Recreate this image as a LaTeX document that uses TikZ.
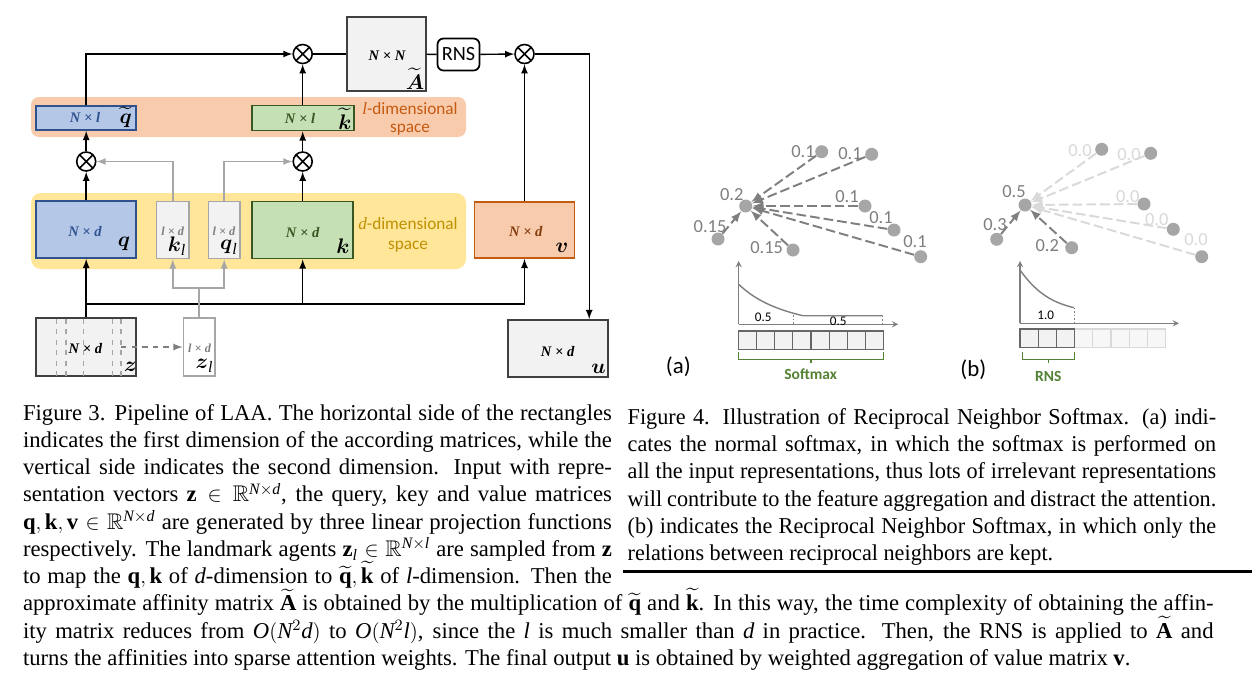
\documentclass[tikz,border=0pt]{standalone}
\usepackage{amsmath}
\usepackage{amssymb}
\usepackage{fontspec}
\setmainfont{Liberation Serif}
\newfontfamily\calibri{Carlito}
\DeclareSymbolFont{timesit}{TU}{\rmdefault}{m}{it}
\DeclareMathSymbol{d}{\mathalpha}{timesit}{`d}
\DeclareMathSymbol{l}{\mathalpha}{timesit}{`l}
\DeclareMathSymbol{N}{\mathalpha}{timesit}{`N}
\DeclareMathSymbol{O}{\mathalpha}{timesit}{`O}
\usepackage{tikz}
\usetikzlibrary{arrows,shapes,positioning}
\usepackage{xcolor}
\definecolor{laablue}{RGB}{180,199,231}
\definecolor{laabluedark}{RGB}{47,82,143}
\definecolor{laagreen}{RGB}{197,224,180}
\definecolor{laagreendark}{RGB}{56,87,35}
\definecolor{laaorange}{RGB}{248,203,173}
\definecolor{laaorangedark}{RGB}{197,90,17}
\definecolor{laabrown}{RGB}{132,60,12}
\definecolor{laayellow}{RGB}{255,230,153}
\definecolor{laagold}{RGB}{191,144,0}
\definecolor{laagrey}{RGB}{242,242,242}
\definecolor{laamid}{RGB}{166,166,166}
\definecolor{laadark}{RGB}{127,127,127}
\definecolor{laaink}{RGB}{64,64,64}
\definecolor{laafade}{RGB}{217,217,217}
\definecolor{rnsgreen}{RGB}{84,130,53}
\tikzstyle{arrow} = [thick,->,>=latex]
\tikzstyle{greyarrow} = [thick,->,>=latex,color=laamid]
\tikzstyle{mat} = [rectangle, draw, line width=1pt, inner sep=0pt]
\tikzstyle{bluemat} = [mat, fill=laablue, draw=laabluedark]
\tikzstyle{greenmat} = [mat, fill=laagreen, draw=laagreendark]
\tikzstyle{valmat} = [mat, fill=laaorange, draw=laaorangedark]
\tikzstyle{greymat} = [mat, fill=laagrey, draw=laaink]
\tikzstyle{landmat} = [mat, fill=laagrey, draw=laamid]
\tikzstyle{mult} = [circle, draw, fill=white, line width=0.9pt, minimum size=0.38cm, inner sep=0pt,
  path picture={\draw[line width=0.9pt] (path picture bounding box.north west) -- (path picture bounding box.south east)
  (path picture bounding box.north east) -- (path picture bounding box.south west);}]
\tikzstyle{dimtxt} = [inner sep=0pt, font=\fontsize{8.3}{9}\selectfont\bfseries\itshape]
\tikzstyle{symtxt} = [inner sep=0pt, font=\fontsize{13}{14}\selectfont]
\tikzstyle{spacelbl} = [inner sep=0pt, align=center, font=\calibri\fontsize{9.8}{10.4}\selectfont]
\tikzstyle{repdot} = [circle, fill=laamid, minimum size=0.26cm, inner sep=0pt]
\tikzstyle{vote} = [->, >=latex, line width=1.1pt, dash pattern=on 5.5pt off 2.3pt, color=laadark]
\tikzstyle{fadevote} = [vote, color=laafade]
\tikzstyle{wlabel} = [inner sep=0pt, text=laadark, font=\calibri\fontsize{10.5}{12}\selectfont]
\tikzstyle{axis} = [->, >=stealth, line width=0.6pt, color=laadark]
\tikzstyle{cell} = [fill=laagrey, draw=laaink!80, line width=0.6pt]
\tikzstyle{brace} = [line width=0.7pt, color=rnsgreen]
\tikzstyle{capline} = [anchor=base west, inner sep=0pt, font=\fontsize{12.9}{15}\selectfont]

\begin{document}
\begin{tikzpicture}[x=0.02cm, y=-0.02cm]
\useasboundingbox (0,0) rectangle (1252,677);
\fill[white] (0,0) rectangle (1252,677);

% Feature spaces
\fill[laaorange, rounded corners=0.16cm] (31,97) rectangle (466,137);
\fill[laayellow, rounded corners=0.2cm] (31,193) rectangle (466,269);
\node[spacelbl, text=laaorangedark] (lspace) at (410,119) {$l$-dimensional\\space};
\node[spacelbl, text=laagold, font=\calibri\fontsize{9.8}{11.8}\selectfont] (dspace) at (408,235) {$d$-dimensional\\space};

% Matrices
\node[bluemat, minimum width=2.006cm, minimum height=0.48cm] (qt) at (86.2,118) {};
\node[greenmat, minimum width=2.04cm, minimum height=0.5cm] (kt) at (302.7,118) {};
\node[greymat, minimum width=1.58cm, minimum height=1.48cm] (At) at (386.3,54) {};
\node[mat, rounded corners=0.12cm, minimum width=0.84cm, minimum height=0.64cm, font=\calibri\fontsize{11.5}{12}\selectfont] (rns) at (458.5,54.5) {RNS};
\node[bluemat, minimum width=2.006cm, minimum height=1.14cm] (q) at (86.2,229.5) {};
\node[landmat, minimum width=0.654cm, minimum height=1.14cm] (kl) at (172.8,230) {};
\node[landmat, minimum width=0.63cm, minimum height=1.14cm] (ql) at (224.2,230) {};
\node[greenmat, minimum width=2.016cm, minimum height=1.14cm] (k) at (302.7,230) {};
\node[valmat, minimum width=2cm, minimum height=1.12cm] (v) at (524.5,230) {};
\node[greymat, minimum width=2.006cm, minimum height=1.16cm] (z) at (86.2,347) {};
\node[landmat, fill=white, minimum width=0.63cm, minimum height=1.16cm] (zl) at (199.2,347) {};
\node[greymat, minimum width=2cm, minimum height=1.14cm] (u) at (557.7,348.5) {};

% Landmark columns inside z
\foreach \c in {56.5,66.2,83.5,112.3,121.2}
  \draw[laamid, line width=0.9pt, dashed] (\c,318.5) -- (\c,375.5);

% Matrix labels
\node[dimtxt, text=laabluedark] (qtdim) at (85,117) {N × l};
\node[symtxt] (qtsym) at (125.8,117) {$\widetilde{\boldsymbol{q}}$};
\node[dimtxt, text=laagreendark] (ktdim) at (300,118) {N × l};
\node[symtxt] (ktsym) at (345,119) {$\widetilde{\boldsymbol{k}}$};
\node[dimtxt] (Atdim) at (387,56) {N × N};
\node[symtxt] (Atsym) at (415,79) {$\widetilde{\boldsymbol{A}}$};
\node[dimtxt, text=laabluedark] (qdim) at (85,231.7) {N × d};
\node[symtxt] (qsym) at (124,244) {$\boldsymbol{q}$};
\node[dimtxt, text=laadark, font=\fontsize{7}{8}\selectfont\bfseries\itshape] (kldim) at (172.7,231.7) {l × d};
\node[symtxt] (klsym) at (177,246) {$\boldsymbol{k}_{l}$};
\node[dimtxt, text=laadark, font=\fontsize{7}{8}\selectfont\bfseries\itshape] (qldim) at (224,231.7) {l × d};
\node[symtxt] (qlsym) at (229,247) {$\boldsymbol{q}_{l}$};
\node[dimtxt, text=laagreendark] (kdim) at (302.7,232.5) {N × d};
\node[symtxt] (ksym) at (343,246) {$\boldsymbol{k}$};
\node[dimtxt, text=laabrown] (vdim) at (525.8,232) {N × d};
\node[symtxt] (vsym) at (562,248) {$\boldsymbol{v}$};
\node[dimtxt] (zdim) at (85.4,348.3) {N × d};
\node[symtxt] (zsym) at (130.5,367) {$\boldsymbol{z}$};
\node[dimtxt, text=laadark, font=\fontsize{7}{8}\selectfont\bfseries\itshape] (zldim) at (199.6,348) {l × d};
\node[symtxt] (zlsym) at (204.6,366) {$\boldsymbol{z}_{l}$};
\node[dimtxt] (udim) at (557.7,351.7) {N × d};
\node[symtxt] (usym) at (598.5,368.5) {$\boldsymbol{u}$};

% Multiplications
\node[mult] (m1) at (302.7,54) {};
\node[mult] (mr) at (524.5,54) {};
\node[mult] (ml) at (86.2,161.5) {};
\node[mult] (mm) at (302.7,161.5) {};

% Projections from z
\coordinate (branch) at (86.2,304);
\draw[arrow] (z) -- (q);
\draw[arrow] (branch) -| (k);
\draw[arrow] (branch) -| (v);
\coordinate (zcut) at (121.2,347);
\draw[->, >=latex, thick, laadark, dashed] (zcut) -- (zl);
\coordinate (lsplit) at (199.2,288);
\draw[thick, laamid] (zl) -- (lsplit);
\draw[greyarrow] (lsplit) -| (kl);
\draw[greyarrow] (lsplit) -| (ql);

% Landmark mapping
\draw[arrow] (q) -- (ml);
\draw[arrow] (ml) -- (qt);
\draw[greyarrow] (kl) |- (ml);
\draw[greyarrow] (ql) |- (mm);
\draw[arrow] (k) -- (mm);
\draw[arrow] (mm) -- (kt);

% Affinity and aggregation
\draw[arrow] (qt) |- (m1);
\draw[arrow] (kt) -- (m1);
\draw[thick] (m1) -- (At);
\draw[thick] (At) -- (rns);
\draw[arrow] (rns) -- (mr);
\draw[arrow] (v) -- (mr);
\coordinate (uturn) at (589.2,54);
\draw[arrow] (mr) -- (uturn) -- (uturn |- u.north);

% (a) normal softmax
\node[repdot] (ac) at (745.7,206) {};
\node[repdot] (a1) at (821.7,151.7) {};
\node[repdot] (a2) at (871.7,154.3) {};
\node[repdot] (a3) at (865,206) {};
\node[repdot] (a4) at (894,230) {};
\node[repdot] (a5) at (920.7,256.7) {};
\node[repdot] (a6) at (718,239) {};
\node[repdot] (a7) at (793,250) {};
\foreach \p in {a1,a2,a3,a4,a5,a6,a7}
  \draw[vote] (\p) -- (ac);
\node[wlabel] (acw) at (731.7,195) {0.2};
\node[wlabel] (a1w) at (803,151.7) {0.1};
\node[wlabel] (a2w) at (850,154) {0.1};
\node[wlabel] (a3w) at (847,196.7) {0.1};
\node[wlabel] (a4w) at (881,218) {0.1};
\node[wlabel] (a5w) at (915,241.7) {0.1};
\node[wlabel] (a6w) at (710,226.7) {0.15};
\node[wlabel] (a7w) at (766.7,248) {0.15};

\draw[axis] (738.7,324.3) -- (738.7,261);
\draw[axis] (738.7,324.3) -- (898.3,324.3);
\draw[line width=0.8pt, laadark] (738.7,284.3) .. controls (752,297) and (770,308) .. (803,315.7) -- (882.7,315.7);
\draw[laadark, line width=0.4pt, dash pattern=on 1pt off 1pt] (793.3,315) -- (793.3,324.3) (882.7,315.7) -- (882.7,324.3);
\node[inner sep=0pt, font=\calibri\fontsize{7.5}{8}\selectfont] (ahalf1) at (763.3,317.7) {0.5};
\node[inner sep=0pt, font=\calibri\fontsize{7.5}{8}\selectfont] (ahalf2) at (838.3,321.2) {0.5};
\foreach \i in {0,...,7}
  \draw[cell] ({738.7+18.08*\i},331) rectangle ++(18.08,18.3);
\draw[brace] (738.7,351.7) -- (738.7,359.3) -- (883.3,359.3) -- (883.3,351.7);
\draw[brace] (811,359.3) -- (811,363.3);
\node[inner sep=0pt, text=rnsgreen, font=\calibri\bfseries\fontsize{8.8}{10}\selectfont] (softmax) at (810.7,374) {Softmax};
\node[inner sep=0pt, font=\calibri\fontsize{13}{14}\selectfont] (atag) at (678.3,366.5) {(a)};

% (b) reciprocal neighbor softmax
\node[repdot] (bc) at (1025,205) {};
\node[repdot] (b1) at (1101.7,149.3) {};
\node[repdot] (b2) at (1150.7,153.3) {};
\node[repdot] (b3) at (1144,204) {};
\node[repdot] (b4) at (1173.3,229.3) {};
\node[repdot] (b5) at (1201.7,256.7) {};
\node[repdot] (b6) at (996.7,239.3) {};
\node[repdot] (b7) at (1071.7,247.7) {};
\foreach \p in {b1,b2,b3,b4,b5}
  \draw[fadevote] (\p) -- (bc);
\draw[vote] (b6) -- (bc);
\draw[vote] (b7) -- (bc);
\node[wlabel] (bcw) at (1014,191.7) {0.5};
\node[wlabel, text=laafade] (b1w) at (1080,150.7) {0.0};
\node[wlabel, text=laafade] (b2w) at (1129,155) {0.0};
\node[wlabel, text=laafade] (b3w) at (1127.7,196.7) {0.0};
\node[wlabel, text=laafade] (b4w) at (1156.7,219.3) {0.0};
\node[wlabel, text=laafade] (b5w) at (1196,240) {0.0};
\node[wlabel] (b6w) at (995,224.3) {0.3};
\node[wlabel] (b7w) at (1047.3,246) {0.2};

\draw[axis] (1020,323.3) -- (1020,261);
\draw[axis] (1020,323.3) -- (1179,323.3);
\draw[line width=0.8pt, laadark] (1020,270) .. controls (1035,291) and (1050,302) .. (1074,307.7);
\draw[laadark, line width=0.4pt, dash pattern=on 1pt off 1pt] (1074,307.7) -- (1074,323.3);
\node[inner sep=0pt, font=\calibri\fontsize{7.5}{8}\selectfont] (bone) at (1045.7,315) {1.0};
\foreach \i in {3,...,7}
  \draw[cell, draw=laafade, fill=laagrey!60] ({1020+18.2*\i},329) rectangle ++(18.2,18.7);
\foreach \i in {0,...,2}
  \draw[cell] ({1020+18.2*\i},329) rectangle ++(18.2,18.7);
\draw[brace] (1022.3,351.7) -- (1022.3,359.3) -- (1074.3,359.3) -- (1074.3,351.7);
\draw[brace] (1048.3,359.3) -- (1048.3,363.3);
\node[inner sep=0pt, text=rnsgreen, font=\calibri\bfseries\fontsize{8.8}{10}\selectfont] (rnstag) at (1048.3,376.7) {RNS};
\node[inner sep=0pt, font=\calibri\fontsize{13}{14}\selectfont] (btag) at (973.3,369.5) {(b)};

% Captions
\node[capline] (f3a) at (22.7,420) {\makebox[11.78cm][s]{Figure 3. Pipeline of LAA. The horizontal side of the rectangles}};
\node[capline] (f3b) at (22.7,447.25) {\makebox[11.78cm][s]{indicates the first dimension of the according matrices, while the}};
\node[capline] (f3c) at (22.7,474.5) {\makebox[11.78cm][s]{vertical side indicates the second dimension.  Input with repre-}};
\node[capline] (f3d) at (22.7,501.75) {\makebox[11.78cm][s]{sentation vectors $\mathbf{z} \in \mathbb{R}^{N\times d}$, the query, key and value matrices}};
\node[capline] (f3e) at (22.7,529) {\makebox[11.78cm][s]{$\mathbf{q},\mathbf{k},\mathbf{v} \in \mathbb{R}^{N\times d}$ are generated by three linear projection functions}};
\node[capline] (f3f) at (22.7,556.25) {\makebox[11.78cm][s]{respectively. The landmark agents $\mathbf{z}_l \in \mathbb{R}^{N\times l}$ are sampled from $\mathbf{z}$}};
\node[capline] (f3g) at (22.7,583.5) {\makebox[11.78cm][s]{to map the $\mathbf{q},\mathbf{k}$ of $d$-dimension to $\widetilde{\mathbf{q}},\widetilde{\mathbf{k}}$ of $l$-dimension.  Then the}};
\node[capline] (f3h) at (22.7,610.75) {\makebox[23.816cm][s]{approximate affinity matrix $\widetilde{\mathbf{A}}$ is obtained by the multiplication of $\widetilde{\mathbf{q}}$ and $\widetilde{\mathbf{k}}$.  In this way, the time complexity of obtaining the affin-}};
\node[capline] (f3i) at (22.7,638) {\makebox[23.816cm][s]{ity matrix reduces from $O(N^2d)$ to $O(N^2l)$, since the $l$ is much smaller than $d$ in practice.  Then, the RNS is applied to $\widetilde{\mathbf{A}}$ and}};
\node[capline] (f3j) at (22.7,665.25) {turns the affinities into sparse attention weights. The final output $\mathbf{u}$ is obtained by weighted aggregation of value matrix $\mathbf{v}$.};

\draw[line width=0.07cm] (623,571.6) -- (1252,571.6);
\node[capline] (f4a) at (627.3,424.3) {\scalebox{0.98}[1]{\makebox[12.014cm][s]{Figure 4.  Illustration of Reciprocal Neighbor Softmax.  (a) indi-}}};
\node[capline] (f4b) at (627.3,451.6) {\scalebox{0.98}[1]{\makebox[12.014cm][s]{cates the normal softmax, in which the softmax is performed on}}};
\node[capline] (f4c) at (627.3,478.9) {\scalebox{0.98}[1]{\makebox[12.014cm][s]{all the input representations, thus lots of irrelevant representations}}};
\node[capline] (f4d) at (627.3,506.2) {\scalebox{0.98}[1]{\makebox[12.014cm][s]{will contribute to the feature aggregation and distract the attention.}}};
\node[capline] (f4e) at (627.3,533.5) {\scalebox{0.98}[1]{\makebox[12.014cm][s]{(b) indicates the Reciprocal Neighbor Softmax, in which only the}}};
\node[capline] (f4f) at (627.3,560.8) {\scalebox{0.98}[1]{relations between reciprocal neighbors are kept.}};
\end{tikzpicture}
\end{document}
